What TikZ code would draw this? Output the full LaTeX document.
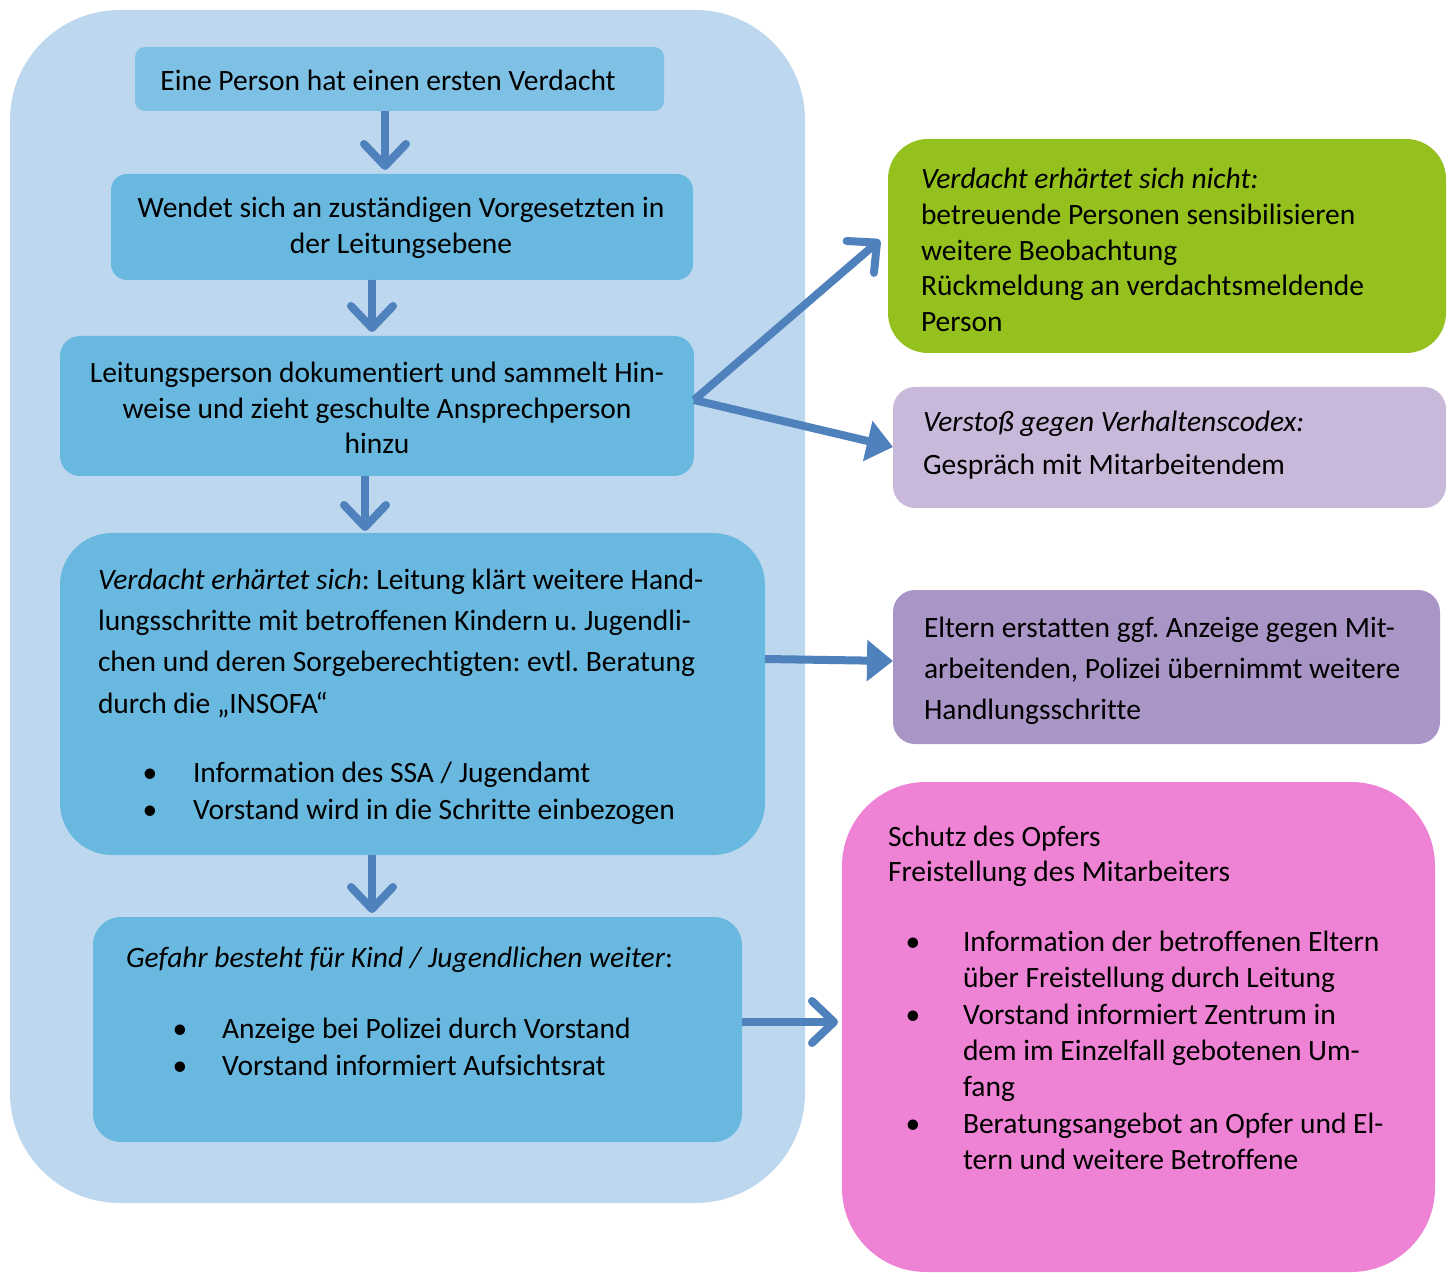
\documentclass[tikz,border=0pt]{standalone}
\usepackage{fontspec}
\setmainfont[Ligatures=NoCommon]{Carlito}
\usetikzlibrary{arrows.meta,calc,fit}
\definecolor{bgblue}{HTML}{BDD7EE}
\definecolor{boxa}{HTML}{7FC1E5}
\definecolor{boxb}{HTML}{69B8DF}
\definecolor{cgreen}{HTML}{95C11F}
\definecolor{clilac}{HTML}{C8B9DA}
\definecolor{cpurple}{HTML}{A996C6}
\definecolor{cpink}{HTML}{EE83D5}
\definecolor{carrow}{HTML}{4F81BD}
\newcommand\myfs{\fontsize{14.75pt}{18pt}\selectfont\frenchspacing}
\begin{document}
\begin{tikzpicture}[x=0.5pt,y=-0.5pt,
  area/.style={inner sep=0pt, outer sep=0pt, draw=none},
  txt/.style={inner sep=0pt, outer sep=0pt, font=\myfs, anchor=base west},
  ctxt/.style={inner sep=0pt, outer sep=0pt, font=\myfs, anchor=base},
  bul/.style={inner sep=0pt, outer sep=0pt, font=\myfs, anchor=base},
  arrbase/.style={draw=carrow, line width=4pt},
  barb/.style={arrbase, -{Straight Barb[length=11pt,width=21pt,round]}},
  tri/.style={arrbase, -{Triangle[length=13pt,width=20pt]}},
]
\useasboundingbox (0,0) rectangle (1453,1273);

% background
\node[area, fill=bgblue, rounded corners=55pt, fit={(10,10)(805,1203)}] (bg) {};

% left column boxes
\node[area, fill=boxa, rounded corners=5pt, fit={(135,47)(664,111)}] (b1) {};
\node[area, fill=boxb, rounded corners=8pt, fit={(111,174)(693,280)}] (b2) {};
\node[area, fill=boxb, rounded corners=10pt, fit={(60,336)(694,476)}] (b3) {};
\node[area, fill=boxb, rounded corners=26pt, fit={(60,533)(765,855)}] (b4) {};
\node[area, fill=boxb, rounded corners=14pt, fit={(93,917)(742,1142)}] (b5) {};

% right boxes
\node[area, fill=cgreen, rounded corners=20pt, fit={(888,139)(1446,353)}] (g) {};
\node[area, fill=clilac, rounded corners=11pt, fit={(893,387)(1446,508)}] (l) {};
\node[area, fill=cpurple, rounded corners=11pt, fit={(893,590)(1440,744)}] (p) {};
\node[area, fill=cpink, rounded corners=42pt, fit={(842,782)(1435,1272)}] (k) {};

% texts
\node[ctxt] (t1) at (388,91) {Eine Person hat einen ersten Verdacht};

\node[ctxt] (t2a) at (401,218) {Wendet sich an zuständigen Vorgesetzten in};
\node[ctxt] (t2b) at (401,254) {der Leitungsebene};

\node[ctxt] (t3a) at (377,383) {Leitungsperson dokumentiert und sammelt Hin-};
\node[ctxt] (t3b) at (377,419) {weise und zieht geschulte Ansprechperson};
\node[ctxt] (t3c) at (377,454) {hinzu};

\node[txt] (t4a) at (98,589) {\textit{Verdacht erhärtet sich}: Leitung klärt weitere Hand-};
\node[txt] (t4b) at (98,630) {lungsschritte mit betroffenen Kindern u. Jugendli-};
\node[txt] (t4c) at (98,671) {chen und deren Sorgeberechtigten: evtl. Beratung};
\node[txt] (t4d) at (98,713) {durch die „INSOFA“};
\node[bul] (t4e0) at (150,782) {•};
\node[txt] (t4e) at (193,782) {Information des SSA / Jugendamt};
\node[bul] (t4f0) at (150,819) {•};
\node[txt] (t4f) at (193,819) {Vorstand wird in die Schritte einbezogen};

\node[txt] (t5a) at (126,967) {\textit{Gefahr besteht für Kind / Jugendlichen weiter}:};
\node[bul] (t5b0) at (180,1038) {•};
\node[txt] (t5b) at (222,1038) {Anzeige bei Polizei durch Vorstand};
\node[bul] (t5c0) at (180,1075) {•};
\node[txt] (t5c) at (222,1075) {Vorstand informiert Aufsichtsrat};

\node[txt] (tga) at (921,189) {\textit{Verdacht erhärtet sich nicht:}};
\node[txt] (tgb) at (921,225) {betreuende Personen sensibilisieren};
\node[txt] (tgc) at (921,261) {weitere Beobachtung};
\node[txt] (tgd) at (921,296) {Rückmeldung an verdachtsmeldende};
\node[txt] (tge) at (921,332) {Person};

\node[txt] (tla) at (923,432) {\textit{Verstoß gegen Verhaltenscodex:}};
\node[txt] (tlb) at (923,474) {Gespräch mit Mitarbeitendem};

\node[txt] (tpa) at (924,637) {Eltern erstatten ggf. Anzeige gegen Mit-};
\node[txt] (tpb) at (924,678) {arbeitenden, Polizei übernimmt weitere};
\node[txt] (tpc) at (924,719) {Handlungsschritte};

\node[txt] (tka) at (888,846) {Schutz des Opfers};
\node[txt] (tkb) at (888,881) {Freistellung des Mitarbeiters};
\node[bul] (tkc0) at (913,951) {•};
\node[txt] (tkc) at (963,951) {Information der betroffenen Eltern};
\node[txt] (tkd) at (963,987) {über Freistellung durch Leitung};
\node[bul] (tke0) at (913,1024) {•};
\node[txt] (tke) at (963,1024) {Vorstand informiert Zentrum in};
\node[txt] (tkf) at (963,1060) {dem im Einzelfall gebotenen Um-};
\node[txt] (tkg) at (963,1096) {fang};
\node[bul] (tkh0) at (913,1133) {•};
\node[txt] (tkh) at (963,1133) {Beratungsangebot an Opfer und El-};
\node[txt] (tki) at (963,1169) {tern und weitere Betroffene};

% connectors
\draw[barb] (b1.south -| 385,0) -- ([yshift=2]b2.north -| 385,0);
\draw[barb] (b2.south -| 372,0) -- ([yshift=2]b3.north -| 372,0);
\draw[barb] (b3.south -| 365,0) -- ([yshift=1]b4.north -| 365,0);
\draw[barb] (b4.south -| 372,0) -- ([yshift=2]b5.north -| 372,0);

\coordinate (fork) at (b3.east |- 0,400);
\draw[barb] (fork) -- ($(g.west |- 0,240)+(-8,0)$);
\draw[tri] (fork) -- (l.west |- 0,447);
\draw[tri] (b4.east |- 0,659) -- (p.west |- 0,661);
\draw[barb] (b5.east |- 0,1022) -- ($(k.west |- 0,1022)+(-4,0)$);
\end{tikzpicture}
\end{document}
